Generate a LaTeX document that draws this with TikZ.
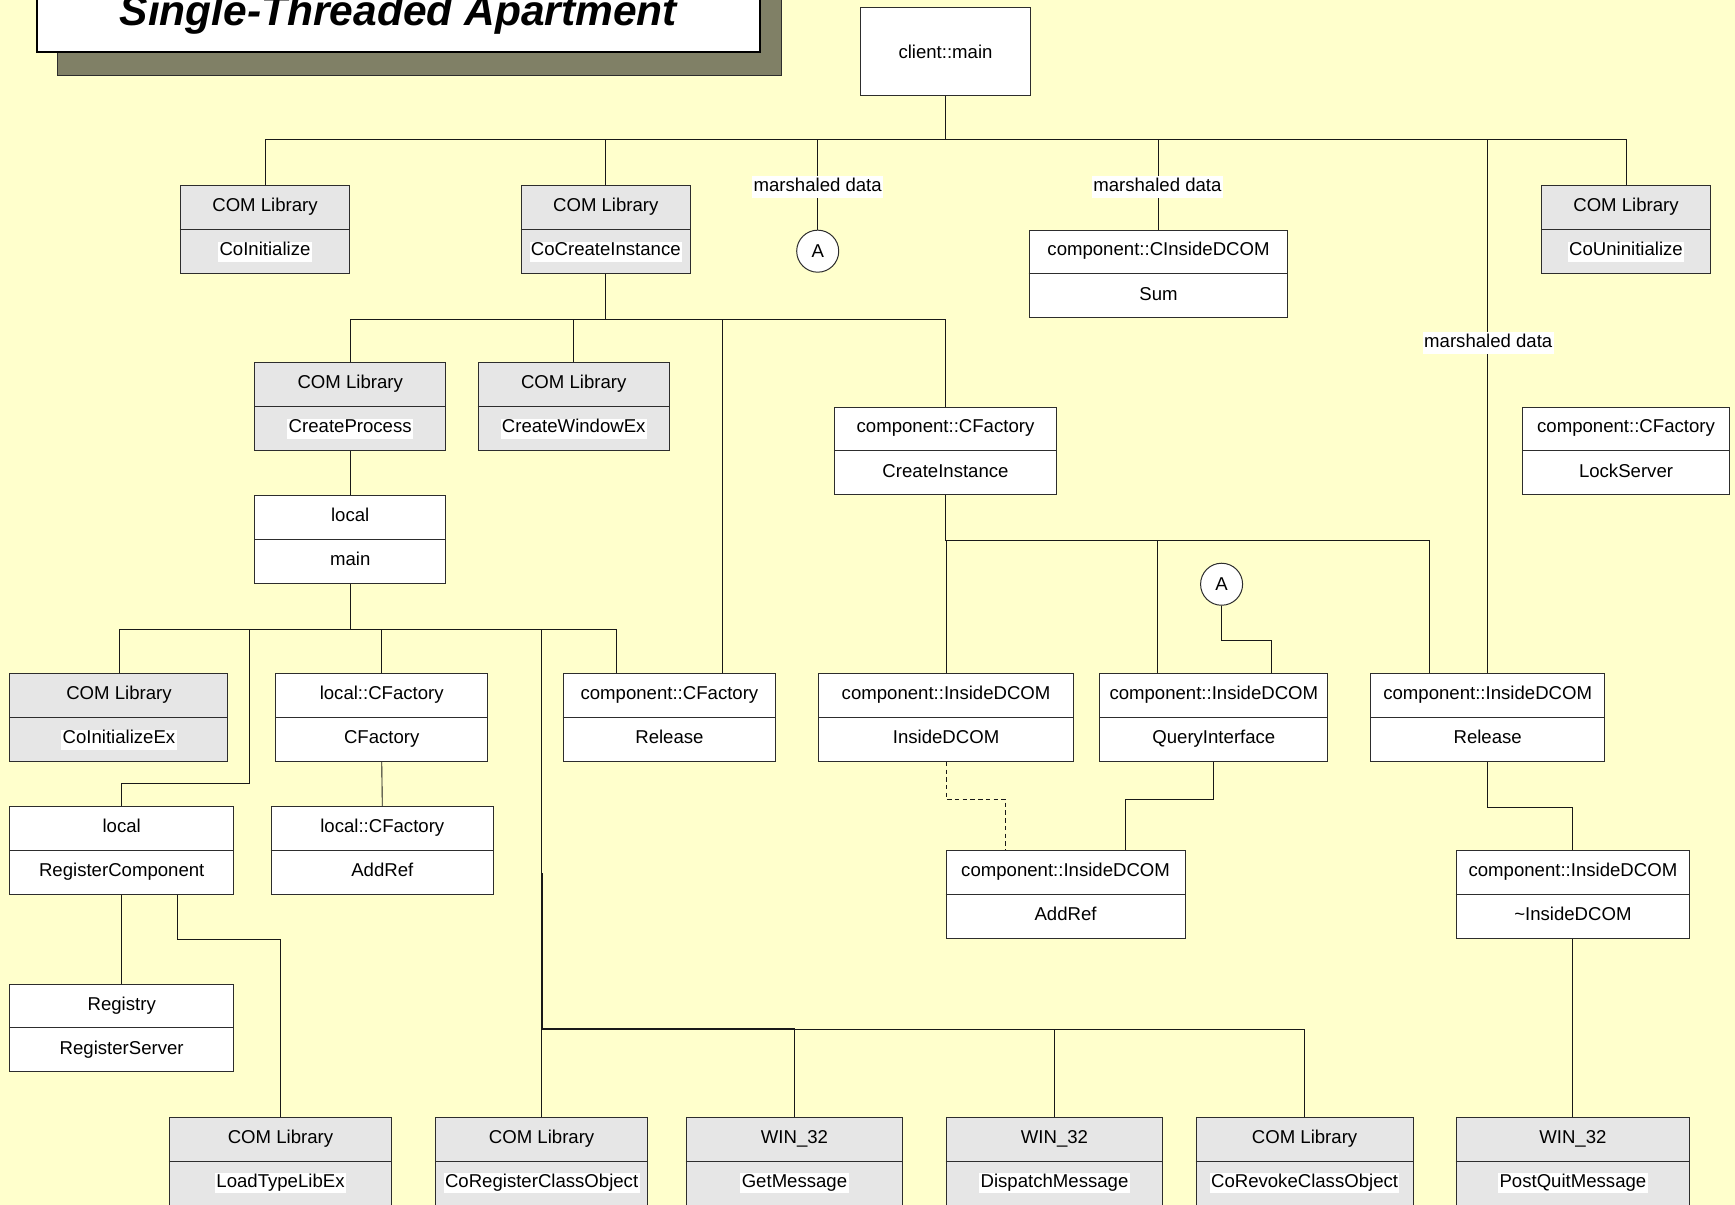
\documentclass[tikz,border=0pt]{standalone}
\usepackage{fontspec}
\setmainfont{Liberation Sans}
\usetikzlibrary{calc}

\definecolor{paper}{RGB}{255,255,204}
\definecolor{libgray}{RGB}{230,230,230}
\definecolor{edge}{RGB}{45,45,45}
\definecolor{wire}{RGB}{25,25,25}
\definecolor{plateshadow}{RGB}{128,128,102}

\pgfdeclarelayer{paperlayer}
\pgfdeclarelayer{wires}
\pgfsetlayers{paperlayer,wires,main}

\tikzset{
  caption/.style={font=\fontsize{16.8}{20}\selectfont, text=black, inner sep=1.2pt, text height=11.5pt, text depth=4pt},
  classbox/.style={draw=edge, fill=white, line width=0.9pt, minimum height=79pt, inner sep=0pt},
  libbox/.style={classbox, fill=libgray},
  classbox lower/.style={caption},
  libbox lower/.style={caption, fill=white},
  divider/.style={draw=edge, line width=0.9pt},
  wire/.style={draw=wire, line width=0.8pt},
  msglabel/.style={caption, fill=white, inner ysep=2.6pt},
  linkcircle/.style={circle, draw=edge, fill=white, line width=0.9pt, minimum size=38pt, inner sep=0pt, text=black, font=\fontsize{16.8}{20}\selectfont},
}

% #1 style (classbox or libbox), #2 name, #3 centre, #4 width, #5 class, #6 method
\newcommand\umlcall[6]{%
  \node[#1, minimum width=#4pt] (#2) at (#3) {};
  \draw[divider] (#2.west) -- (#2.east);
  \node[caption] (#2-top) at ($(#2.north)!0.5!(#2.center)$) {#5};
  \node[#1 lower] (#2-bot) at ($(#2.center)!0.5!(#2.south)$) {#6};
}

\begin{document}
\begin{tikzpicture}[x=1pt, y=-1pt]
\useasboundingbox (0,0) rectangle (1568,1089);
\clip (0,0) rectangle (1568,1089);
\begin{pgfonlayer}{paperlayer}
  \fill[paper] (0,0) rectangle (1568,1089);
\end{pgfonlayer}

% title plate with its drop shadow
\fill[plateshadow] (52,-10) rectangle (706,68);
\draw[edge, line width=0.6pt] (52,-10) rectangle (706,68);
\fill[white] (33,-10) rectangle (687,47);
\draw[black, line width=1.8pt] (33,-10) rectangle (687,47);
\node[anchor=base, inner sep=0pt, text=black, font=\fontsize{38.4}{44}\selectfont\bfseries\itshape] (title) at (360,22.6) {Single-Threaded Apartment};

% client
\node[classbox, minimum width=153pt, font=\fontsize{16.8}{20}\selectfont, text=black] (main) at (854.5,46.5) {client::main};

% first level
\umlcall{libbox}{coinit}{239.5,207.5}{153}{COM Library}{CoInitialize}
\umlcall{libbox}{cocreate}{547.5,207.5}{153}{COM Library}{CoCreateInstance}
\node[linkcircle] (circA1) at (739,227) {A};
\umlcall{classbox}{cinside}{1047,247.5}{234}{component::CInsideDCOM}{Sum}
\umlcall{libbox}{couninit}{1469.5,207.5}{153}{COM Library}{CoUninitialize}

% second level
\umlcall{libbox}{createproc}{316.5,367.5}{173}{COM Library}{CreateProcess}
\umlcall{libbox}{createwin}{518.5,367.5}{173}{COM Library}{CreateWindowEx}
\umlcall{classbox}{cfcreate}{854.5,407.5}{201}{component::CFactory}{CreateInstance}
\umlcall{classbox}{lockserver}{1469.5,407.5}{187}{component::CFactory}{LockServer}
\umlcall{classbox}{localmain}{316.5,487.5}{173}{local}{main}

% third level
\umlcall{libbox}{coinitex}{107.5,648.5}{197}{COM Library}{CoInitializeEx}
\umlcall{classbox}{lcf}{345,648.5}{192}{local::CFactory}{CFactory}
\umlcall{classbox}{cfrelease}{605,648.5}{192}{component::CFactory}{Release}
\umlcall{classbox}{idcom}{855,648.5}{230}{component::InsideDCOM}{InsideDCOM}
\umlcall{classbox}{qi}{1097,648.5}{206}{component::InsideDCOM}{QueryInterface}
\umlcall{classbox}{idrelease}{1344.5,648.5}{211}{component::InsideDCOM}{Release}
\node[linkcircle] (circA2) at (1104,528) {A};

\umlcall{classbox}{regcomp}{110,768.5}{202}{local}{RegisterComponent}
\umlcall{classbox}{lcfaddref}{345.5,768.5}{201}{local::CFactory}{AddRef}
\umlcall{classbox}{idaddref}{963,808.5}{216}{component::InsideDCOM}{AddRef}
\umlcall{classbox}{iddtor}{1421.5,808.5}{211}{component::InsideDCOM}{\textasciitilde InsideDCOM}
\umlcall{classbox}{registry}{110,929}{202}{Registry}{RegisterServer}

% bottom row
\umlcall{libbox}{loadtl}{253.5,1049.5}{201}{COM Library}{LoadTypeLibEx}
\umlcall{libbox}{coregco}{489.5,1049.5}{191}{COM Library}{CoRegisterClassObject}
\umlcall{libbox}{getmsg}{718,1049.5}{196}{WIN\_32}{GetMessage}
\umlcall{libbox}{dispmsg}{953,1049.5}{196}{WIN\_32}{DispatchMessage}
\umlcall{libbox}{corevoke}{1179,1049.5}{196}{COM Library}{CoRevokeClassObject}
\umlcall{libbox}{postquit}{1421.5,1049.5}{211}{WIN\_32}{PostQuitMessage}

% labels sitting on the marshaling wires
\node[msglabel] (lblM1) at (739,169) {marshaled data};
\node[msglabel] (lblM2) at (1046,169) {marshaled data};
\node[msglabel] (lblM3) at (1345,310) {marshaled data};

\coordinate (regbend) at (225,708);
\coordinate (msgloop) at (490,789);

\begin{pgfonlayer}{wires}
  % client::main fan-out
  \draw[wire, line width=1.4pt] (main.south) -- ++(0,40);
  \draw[wire] (main.south) -- ++(0,40) -| (coinit.north);
  \draw[wire] (main.south) -- ++(0,40) -| (cocreate.north);
  \draw[wire] (main.south) -- ++(0,40) -| (circA1.north);
  \draw[wire] (main.south) -- ++(0,40) -| (cinside.north);
  \draw[wire] (main.south) -- ++(0,40) -| (idrelease.north);
  \draw[wire] (main.south) -- ++(0,40) -| (couninit.north);

  % CoCreateInstance fan-out
  \draw[wire] (cocreate.south) -- ++(0,41) -| (createproc.north);
  \draw[wire] (cocreate.south) -- ++(0,41) -| (createwin.north);
  \draw[wire] (cocreate.south) -- ++(0,41) -| ([xshift=48pt]cfrelease.north);
  \draw[wire] (cocreate.south) -- ++(0,41) -| (cfcreate.north);

  \draw[wire] (createproc.south) -- (localmain.north);

  % local::main fan-out
  \draw[wire, line width=1.2pt] (localmain.south) -- ++(0,41);
  \draw[wire] (localmain.south) -- ++(0,41) -| (coinitex.north);
  \draw[wire] (localmain.south) -- ++(0,41) -| (regbend) -| (regcomp.north);
  \draw[wire] (localmain.south) -- ++(0,41) -| (lcf.north);
  \draw[wire] (localmain.south) -- ++(0,41) -| (coregco.north);
  \draw[wire] (localmain.south) -- ++(0,41) -| ([xshift=-48pt]cfrelease.north);

  % message loop
  \draw[wire, line width=1.1pt] (msgloop) -- ++(0,141) -| (getmsg.north);
  \draw[wire] (msgloop) -- ++(0,141) -| (dispmsg.north);
  \draw[wire] (msgloop) -- ++(0,141) -| (corevoke.north);

  \draw[wire] (lcf.south) -- (lcfaddref.north);
  \draw[wire] (regcomp.south) -- (registry.north);
  \draw[wire] ([xshift=50pt]regcomp.south) -- ++(0,41) -| (loadtl.north);

  % CFactory::CreateInstance fan-out
  \draw[wire] (cfcreate.south) -- ++(0,41) -| (idcom.north);
  \draw[wire] (cfcreate.south) -- ++(0,41) -| ([xshift=-51pt]qi.north);
  \draw[wire] (cfcreate.south) -- ++(0,41) -| ([xshift=-52.5pt]idrelease.north);
  \draw[wire] (circA2.south) -- ++(0,31) -| ([xshift=52pt]qi.north);

  \draw[wire, dashed, dash pattern=on 4pt off 3pt] (idcom.south) -- ++(0,34) -| ([xshift=-54pt]idaddref.north);
  \draw[wire] (qi.south) -- ++(0,34) -| ([xshift=54pt]idaddref.north);
  \draw[wire] (idrelease.south) -- ++(0,41) -| (iddtor.north);
  \draw[wire] (iddtor.south) -- (postquit.north);
\end{pgfonlayer}
\end{tikzpicture}
\end{document}
